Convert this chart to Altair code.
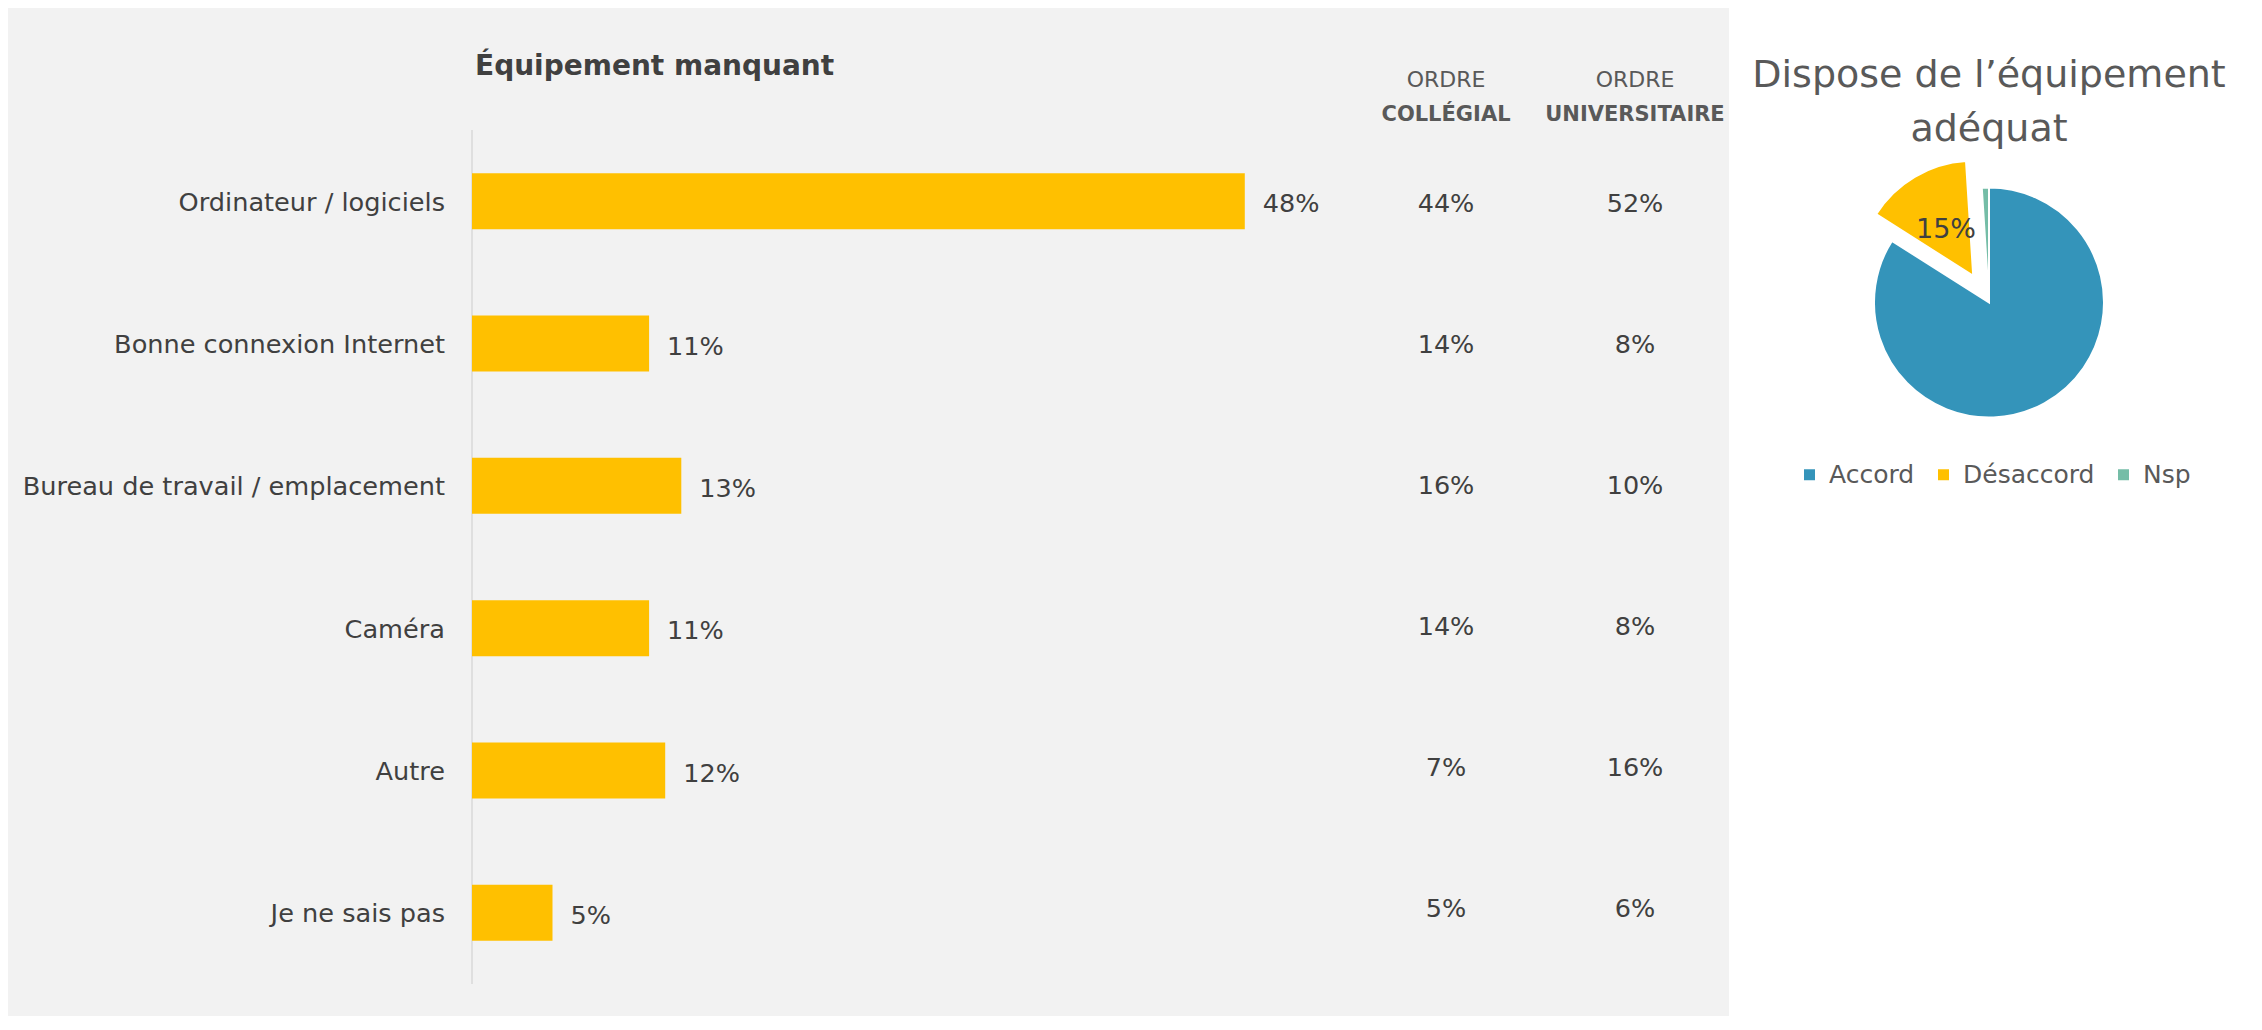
import math
import altair as alt
import pandas as pd

FONT = "DejaVu Sans"
DARK = "#404040"
MID = "#595959"

# ---------------- data ----------------
categories = ["Ordinateur / logiciels", "Bonne connexion Internet",
              "Bureau de travail / emplacement", "Caméra", "Autre", "Je ne sais pas"]
total_pct = [48, 11, 13, 11, 12, 5]
collegial_pct = [44, 14, 16, 14, 7, 5]
universitaire_pct = [52, 8, 10, 8, 16, 6]

ordres = ["COLLÉGIAL", "UNIVERSITAIRE"]
ordre_prefix = "ORDRE"
bar_title = "Équipement manquant"

pie_labels = ["Accord", "Désaccord", "Nsp"]
pie_values = [84, 15, 1]
pie_colors = ["#3494BA", "#FFC000", "#75BDA7"]
pie_exploded = "Désaccord"
pie_labelled = ["Désaccord"]
pie_title_lines = ["Dispose de l’équipement", "adéquat"]

# ---------------- layout ----------------
LW, H = 1721, 1008
RW = 517
Y_TOP, Y_BOT = 122, 976
COL_Y_BOT = 968
X0, X50 = 464, 1269
COL_X = [1438, 1627]
PIE_CX, PIE_CY, PIE_R = 260, 294.5, 115
EXPLODE = 31
LABEL_R = 84.5

bars_df = pd.DataFrame({"cat": categories, "total": total_pct})
cols_df = pd.DataFrame({
    "cat": categories * 2,
    "ordre": [ordres[0]] * len(categories) + [ordres[1]] * len(categories),
    "v": collegial_pct + universitaire_pct,
})
hdr_df = pd.DataFrame({"ordre": ordres, "top": [ordre_prefix] * len(ordres)})
zero_df = pd.DataFrame({"z": [0], "t": [bar_title]})

yscale = alt.Scale(type="band", domain=categories, range=[Y_TOP, Y_BOT],
                   paddingInner=0.606, paddingOuter=0.303)
yscale_cols = alt.Scale(type="band", domain=categories, range=[Y_TOP, COL_Y_BOT],
                        paddingInner=0.606, paddingOuter=0.303)
xscale = alt.Scale(domain=[0, 50], range=[X0, X50], nice=False, zero=False)
oscale = alt.Scale(type="point", domain=ordres, range=COL_X, padding=0)
Y = alt.Y("cat:N", scale=yscale, axis=None)

rule = alt.Chart(zero_df).mark_rule(color="#D9D9D9", strokeWidth=1.5).encode(
    x=alt.X("z:Q", scale=xscale, axis=None),
    y=alt.value(Y_TOP), y2=alt.value(Y_BOT))

bars = alt.Chart(bars_df).mark_bar(color="#FFC000").encode(
    x=alt.X("total:Q", scale=xscale, axis=None), y=Y)

cat_text = alt.Chart(bars_df).transform_calculate(z="0").mark_text(
    align="right", baseline="alphabetic", dx=-27, dy=9.5,
    font=FONT, fontSize=25.6, color=DARK).encode(
    x=alt.X("z:Q", scale=xscale, axis=None), y=Y, text="cat:N")

val_text = alt.Chart(bars_df).transform_calculate(lab="datum.total + '%'").mark_text(
    align="left", baseline="alphabetic", dx=18, dy=11,
    font=FONT, fontSize=25.5, color=DARK).encode(
    x=alt.X("total:Q", scale=xscale, axis=None), y=Y, text="lab:N")

title = alt.Chart(zero_df).mark_text(
    align="left", baseline="alphabetic", dx=3, font=FONT, fontSize=28,
    fontWeight="bold", color=DARK).encode(
    x=alt.X("z:Q", scale=xscale, axis=None), y=alt.value(67), text="t:N")

hdr1 = alt.Chart(hdr_df).mark_text(
    align="center", baseline="alphabetic", font=FONT, fontSize=22, color=MID).encode(
    x=alt.X("ordre:N", scale=oscale, axis=None), y=alt.value(79.3), text="top:N")

hdr2 = alt.Chart(hdr_df).mark_text(
    align="center", baseline="alphabetic", font=FONT, fontSize=21,
    fontWeight="bold", color=MID).encode(
    x=alt.X("ordre:N", scale=oscale, axis=None), y=alt.value(112.7), text="ordre:N")

col_text = alt.Chart(cols_df).transform_calculate(lab="datum.v + '%'").mark_text(
    align="center", baseline="alphabetic", dy=11,
    font=FONT, fontSize=25.5, color=DARK).encode(
    x=alt.X("ordre:N", scale=oscale, axis=None),
    y=alt.Y("cat:N", scale=yscale_cols, axis=None), text="lab:N")

left = alt.layer(rule, bars, cat_text, val_text, title, hdr1, hdr2, col_text).resolve_scale(
    x="independent", y="independent").properties(
    width=LW, height=H, view=alt.ViewBackground(fill="#F2F2F2", stroke=None))

# ---------------- pie ----------------
pie_df = pd.DataFrame({"lab": pie_labels, "v": pie_values, "i": list(range(len(pie_labels)))})

base = alt.Chart(pie_df).transform_window(
    end="sum(v)", sort=[alt.SortField("i")], frame=[None, 0]
).transform_calculate(
    start="datum.end - datum.v"
).transform_calculate(
    ang="(datum.start + datum.end) / 2 / 100 * 2 * PI"
).transform_calculate(
    off=f"datum.lab == '{pie_exploded}' ? {EXPLODE} : 0"
).transform_calculate(
    px=f"{PIE_CX} + datum.off * sin(datum.ang)",
    py=f"{PIE_CY} - datum.off * cos(datum.ang)",
    lx=f"{PIE_CX} + {LABEL_R} * sin(datum.ang)",
    ly=f"{PIE_CY} - {LABEL_R} * cos(datum.ang)",
)

arcs = base.mark_arc(radius=PIE_R, stroke="white", strokeWidth=2).encode(
    theta=alt.Theta("start:Q", stack=False,
                    scale=alt.Scale(domain=[0, 100], range=[0, 2 * math.pi])),
    theta2=alt.Theta2("end:Q"),
    x=alt.X("px:Q", scale=None),
    y=alt.Y("py:Q", scale=None),
    color=alt.Color("lab:N", scale=alt.Scale(domain=pie_labels, range=pie_colors),
                    legend=alt.Legend(orient="none", legendX=68, legendY=454,
                                      direction="horizontal", title=None,
                                      symbolType="square", symbolSize=121,
                                      symbolStrokeWidth=0, labelFont=FONT,
                                      labelFontSize=25, labelColor=MID,
                                      labelOffset=7, columnPadding=16, padding=0)),
)

pie_lab = base.transform_filter(
    alt.FieldOneOfPredicate(field="lab", oneOf=pie_labelled)
).transform_calculate(t="datum.v + '%'").mark_text(
    align="center", baseline="middle", font=FONT, fontSize=27, color=DARK).encode(
    x=alt.X("lx:Q", scale=None), y=alt.Y("ly:Q", scale=None), text="t:N")

ptitle_df = pd.DataFrame({"line": pie_title_lines, "i": list(range(len(pie_title_lines)))})
ptitle = alt.Chart(ptitle_df).transform_calculate(
    ty="79.3 + datum.i * 53.4").mark_text(
    align="center", baseline="alphabetic", font=FONT, fontSize=38, color=MID).encode(
    x=alt.value(PIE_CX), y=alt.Y("ty:Q", scale=None), text="line:N")

right = alt.layer(arcs, pie_lab, ptitle).properties(width=RW, height=H)

chart = alt.hconcat(left, right, spacing=0).resolve_scale(
    color="independent").resolve_legend(color="independent").properties(
    padding=0, background="white").configure_view(stroke=None)

chart.save("out.html", embed_options={"renderer": "svg", "actions": False})
